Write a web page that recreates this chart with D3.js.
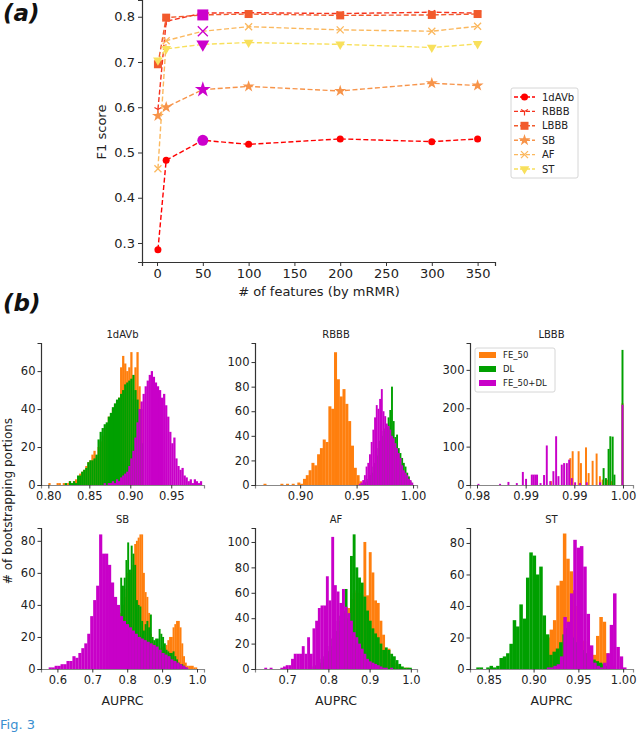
<!DOCTYPE html>
<html>
<head>
<meta charset="utf-8">
<script src="https://cdn.jsdelivr.net/npm/d3@7"></script>
<style>
  body { margin: 0; background: #fff; }
  svg { display: block; font-family: "DejaVu Sans", sans-serif; }
</style>
</head>
<body>
<svg id="chart" width="640" height="734"></svg>
<script>
// ---------- panel (a) data ----------
const featCounts = [1, 10, 50, 100, 200, 300, 350];
const classNames = ["1dAVb", "RBBB", "LBBB", "SB", "AF", "ST"];
const f1_1dAVb = [0.285, 0.483, 0.527, 0.518, 0.530, 0.524, 0.530];
const f1_RBBB  = [0.595, 0.790, 0.808, 0.809, 0.807, 0.810, 0.808];
const f1_LBBB  = [0.695, 0.798, 0.804, 0.806, 0.803, 0.804, 0.806];
const f1_SB    = [0.581, 0.600, 0.639, 0.646, 0.636, 0.653, 0.648];
const f1_AF    = [0.464, 0.747, 0.768, 0.778, 0.771, 0.768, 0.779];
const f1_ST    = [0.704, 0.729, 0.739, 0.743, 0.739, 0.732, 0.740];
const f1Ticks = [0.3, 0.4, 0.5, 0.6, 0.7, 0.8];
const featTicks = [0, 50, 100, 150, 200, 250, 300, 350];

// ---------- panel (b) data : histogram bins {lo, w, n} ----------
const legendNames = ["FE_50", "DL", "FE_50+DL"];

const h1dAVb_FE  = { lo: 0.800, w: 0.0025, n: [1,0,0,0,1,1,0,1,0,1,2,1,2,3,4,6,7,8,10,12,13,16,18,15,20,23,26,30,32,36,36,40,42,44,46,62,68,64,60,62,70,45,62,70,52,40] };
const h1dAVb_DL  = { lo: 0.820, w: 0.0025, n: [1,0,2,1,2,1,5,5,7,8,9,12,13,13,14,16,24,28,30,32,33,36,38,41,43,45,46,48,50,53,54,55,56,58,50,45,40,22] };
const h1dAVb_MIX = { lo: 0.8675, w: 0.0025, n: [1,0,1,1,2,1,3,2,4,5,6,7,10,14,18,25,33,40,44,48,52,55,58,60,57,54,52,50,46,48,42,36,28,22,25,14,10,8,9,5,4,2,3,1,3,2,1,2] };

const hRBBB_FE  = { lo: 0.8675, w: 0.0025, n: [1,0,0,0,0,0,1,0,1,0,1,0,2,1,5,8,12,18,16,25,30,37,35,64,62,108,86,72,78,66,52,32,14,8,3,1,1] };
const hRBBB_DL  = { lo: 0.955, w: 0.0015, n: [1,2,3,5,8,10,15,18,24,30,36,40,44,46,47,55,61,80,52,39,41,30,26,22,18,15,10,7,3] };
const hRBBB_MIX = { lo: 0.952, w: 0.0015, n: [1,2,4,8,15,18,25,35,45,55,65,62,70,78,60,56,50,48,45,40,38,34,30,26,22,16,12,10,8,5,4,2] };

// LBBB values are discrete, so the bins are listed by position
const lbbbBinW = 0.00018;
const hLBBB_FE_pos  = [0.99250, 0.99449, 0.99473, 0.99534, 0.99558, 0.99610, 0.99637, 0.99678, 0.99719, 0.99753, 0.99781, 0.99825, 0.99873, 0.99985];
const hLBBB_FE_n    = [10, 70, 88, 88, 57, 98, 31, 63, 82, 23, 14, 14, 10, 213];
const hLBBB_DL_pos  = [0.99791, 0.99815, 0.99842, 0.99860, 0.99884, 0.99902, 0.99985];
const hLBBB_DL_n    = [44, 18, 94, 127, 126, 27, 352];
const hLBBB_MIX_pos = [0.98505, 0.98727, 0.98813, 0.98899, 0.98961, 0.98994, 0.99053, 0.99071, 0.99089, 0.99107, 0.99143, 0.99179, 0.99207, 0.99243, 0.99275, 0.99303, 0.99327, 0.99361, 0.99385, 0.99413, 0.99437, 0.99464, 0.99498, 0.99549, 0.99618, 0.99755, 0.99985];
const hLBBB_MIX_n   = [3, 3, 8, 5, 34, 16, 27, 27, 27, 27, 5, 26, 103, 10, 36, 127, 23, 53, 57, 57, 66, 18, 7, 5, 7, 7, 209];

const hSB_FE  = { lo: 0.770, w: 0.005, n: [28,30,35,40,45,50,60,60,62,65,78,80,82,84,84,60,48,45,35,22,18,16,15,14,13,12,14,13,15,18,20,20,26,28,30,30,26,16,8,4,2,2,2,2,1,1] };
const hSB_DL  = { lo: 0.775, w: 0.005, n: [20,57,52,57,68,79,62,77,72,65,43,40,39,30,24,28,30,26,34,20,18,19,19,25,22,20,16,12,11,10,10,11,8,6,4,3,3,2,1] };
const hSB_MIX = { lo: 0.575, w: 0.0085, n: [1,1,2,2,3,3,5,5,8,7,10,13,16,22,33,43,52,84,72,72,65,54,45,40,33,30,28,26,24,22,20,19,18,17,16,15,14,12,10,9,8,6,5,4,3,2,1] };

const hAF_FE  = { lo: 0.781, w: 0.0065, n: [3,5,8,12,15,20,25,30,35,40,48,55,60,62,60,58,100,58,92,76,54,52,38,27,15,16,8,5,3,2,1,1,1] };
const hAF_DL  = { lo: 0.7615, w: 0.0065, n: [2,3,5,8,10,14,18,24,30,38,42,46,63,40,89,106,80,72,68,57,46,38,32,28,25,20,15,17,15,12,10,7,4,2,1,1,1] };
const hAF_MIX = { lo: 0.6445, w: 0.0065, n: [1,0,1,0,0,0,1,2,3,3,8,12,12,12,18,12,25,12,32,38,48,50,50,73,54,104,66,61,52,63,49,44,38,29,25,20,16,12,8,6,5,4,3,2,1,1,0,1] };

const hST_FE  = { lo: 0.9105, w: 0.0037, n: [12,20,25,31,53,56,86,70,62,50,40,30,18,10,6,9,21,33,30,10,5,2] };
const hST_DL  = { lo: 0.836, w: 0.0037, n: [1,1,0,1,2,1,2,7,8,10,16,31,27,41,32,58,74,72,60,65,34,22,9,11,13,17,22,26,25,20,17,14,12,10,8,6,5,4,3,2,1,1] };
const hST_MIX = { lo: 0.9147, w: 0.0037, n: [1,1,2,3,8,33,30,48,82,77,78,65,35,15,4,2,1,4,10,28,48,14,8,1] };

// axis setup per subplot
const histXDomains = [[0.791, 0.990], [0.860, 1.0035], [0.98428, 1.00103], [0.553, 1.020], [0.622, 1.015], [0.829, 1.011]];
const histYMax = [74.8, 115.5, 370, 88, 111, 89.5];
const histXTicks = [[0.80, 0.85, 0.90, 0.95], [0.90, 0.95, 1.00], [0.985, 0.990, 0.995, 1.000], [0.6, 0.7, 0.8, 0.9, 1.0], [0.7, 0.8, 0.9, 1.0], [0.85, 0.90, 0.95, 1.00]];
const histXTickLabels = [["0.80", "0.85", "0.90", "0.95"], ["0.90", "0.95", "1.00"], ["0.98", "0.99", "0.99", "1.00"], ["0.6", "0.7", "0.8", "0.9", "1.0"], ["0.7", "0.8", "0.9", "1.0"], ["0.85", "0.90", "0.95", "1.00"]];
const histYTicks = [[0, 20, 40, 60], [0, 20, 40, 60, 80, 100], [0, 100, 200, 300], [0, 20, 40, 60, 80], [0, 20, 40, 60, 80, 100], [0, 20, 40, 60, 80]];

const dense = s => s.n.map((c, i) => ({ x0: s.lo + i * s.w, x1: s.lo + (i + 1) * s.w, c }));
const sparse = (pos, n) => pos.map((p, i) => ({ x0: p, x1: p + lbbbBinW, c: n[i] }));

const histSeries = [
  [dense(h1dAVb_FE), dense(h1dAVb_DL), dense(h1dAVb_MIX)],
  [dense(hRBBB_FE), dense(hRBBB_DL), dense(hRBBB_MIX)],
  [sparse(hLBBB_FE_pos, hLBBB_FE_n), sparse(hLBBB_DL_pos, hLBBB_DL_n), sparse(hLBBB_MIX_pos, hLBBB_MIX_n)],
  [dense(hSB_FE), dense(hSB_DL), dense(hSB_MIX)],
  [dense(hAF_FE), dense(hAF_DL), dense(hAF_MIX)],
  [dense(hST_FE), dense(hST_DL), dense(hST_MIX)]
];

// ---------- styles ----------
const lineColors = ["#ff0000", "#f5321e", "#f25a2c", "#f7944a", "#fbb85e", "#f8e05c"];
const markerTypes = ["circle", "tri", "square", "star", "x", "tridown"];
const highlight = "#cc00cc";
const histColors = ["#ff7f0e", "#00a000", "#c800c8"];
const axisColor = "#333";

const svg = d3.select("#chart");

function styleAxis(g, fontSize) {
  g.selectAll(".domain").attr("stroke", axisColor).attr("stroke-width", 1.2);
  g.selectAll(".tick line").attr("stroke", axisColor).attr("stroke-width", 1);
  g.selectAll(".tick text").attr("fill", "#222").style("font-size", fontSize + "px")
    .style("font-family", "DejaVu Sans, sans-serif");
}

function drawMarker(g, type, cx, cy, s, color) {
  if (type === "circle") {
    g.append("circle").attr("cx", cx).attr("cy", cy).attr("r", s / 2).attr("fill", color);
  } else if (type === "square") {
    g.append("rect").attr("x", cx - s / 2).attr("y", cy - s / 2).attr("width", s).attr("height", s).attr("fill", color);
  } else if (type === "tri") {
    g.append("path")
      .attr("d", `M${cx},${cy}v${s / 2}M${cx},${cy}l${-0.433 * s},${-0.25 * s}M${cx},${cy}l${0.433 * s},${-0.25 * s}`)
      .attr("stroke", color).attr("stroke-width", 1.2).attr("fill", "none");
  } else if (type === "star") {
    g.append("path").attr("d", d3.symbol(d3.symbolStar, s * s * 0.55)())
      .attr("transform", `translate(${cx},${cy})`).attr("fill", color);
  } else if (type === "x") {
    const h = s / 2;
    g.append("path").attr("d", `M${cx - h},${cy - h}L${cx + h},${cy + h}M${cx - h},${cy + h}L${cx + h},${cy - h}`)
      .attr("stroke", color).attr("stroke-width", 1.3).attr("fill", "none");
  } else if (type === "tridown") {
    g.append("path").attr("d", d3.symbol(d3.symbolTriangle, s * s * 0.5)())
      .attr("transform", `translate(${cx},${cy}) rotate(180)`).attr("fill", color);
  }
}

// ================= panel (a) =================
const xA = d3.scaleLinear().domain([-16.4, 369]).range([142, 495]);
const yA = d3.scaleLinear().domain([0.258, 0.837]).range([262, 0]);

const gA = svg.append("g");

const axA_x = gA.append("g").attr("transform", "translate(0,262)")
  .call(d3.axisBottom(xA).tickValues(featTicks).tickSizeOuter(0).tickSize(4).tickPadding(3));
const axA_y = gA.append("g").attr("transform", "translate(142,0)")
  .call(d3.axisLeft(yA).tickValues(f1Ticks).tickFormat(d3.format(".1f")).tickSizeOuter(0).tickSize(4).tickPadding(3));
styleAxis(axA_x, 13);
styleAxis(axA_y, 13);

gA.append("text").attr("x", 319).attr("y", 296).attr("text-anchor", "middle")
  .style("font-size", "13px").attr("fill", "#222").text("# of features (by mRMR)");
gA.append("text").attr("transform", "translate(106,132) rotate(-90)").attr("text-anchor", "middle")
  .style("font-size", "13px").attr("fill", "#222").text("F1 score");

const f1Series = [f1_1dAVb, f1_RBBB, f1_LBBB, f1_SB, f1_AF, f1_ST];
const markerSizes = [7, 8, 8, 9, 7, 9];
const hlSizes = [11, 11, 11, 12, 10, 12];
const lineA = d3.line().x((d, i) => xA(featCounts[i])).y(d => yA(d));

f1Series.forEach((vals, k) => {
  const g = gA.append("g");
  g.append("path").attr("d", lineA(vals)).attr("fill", "none")
    .attr("stroke", lineColors[k]).attr("stroke-width", 1.4).attr("stroke-dasharray", "5,2.5");
  vals.forEach((v, i) => {
    if (i === 2) drawMarker(g, markerTypes[k], xA(featCounts[i]), yA(v), hlSizes[k], highlight);
    else drawMarker(g, markerTypes[k], xA(featCounts[i]), yA(v), markerSizes[k], lineColors[k]);
  });
});

// legend (a)
const legA = gA.append("g").attr("transform", "translate(511,88)");
legA.append("rect").attr("width", 67).attr("height", 90).attr("rx", 2)
  .attr("fill", "#fff").attr("stroke", "#ccc").attr("stroke-width", 0.8);
classNames.forEach((name, k) => {
  const y = 9 + k * 14.4;
  legA.append("line").attr("x1", 3).attr("x2", 24).attr("y1", y).attr("y2", y)
    .attr("stroke", lineColors[k]).attr("stroke-width", 1.4).attr("stroke-dasharray", "4,2");
  drawMarker(legA, markerTypes[k], 13.5, y, markerSizes[k], lineColors[k]);
  legA.append("text").attr("x", 31).attr("y", y + 3.5).style("font-size", "10px").attr("fill", "#222").text(name);
});

svg.append("text").attr("x", 3).attr("y", 21).style("font-size", "23px").style("font-weight", "bold")
  .style("font-style", "italic").attr("fill", "#111").text("(a)");

// ================= panel (b) =================
svg.append("text").attr("x", 3).attr("y", 311).style("font-size", "23px").style("font-weight", "bold")
  .style("font-style", "italic").attr("fill", "#111").text("(b)");

const histCols = [[41, 204], [255, 417], [470, 633]];
const histRows = [[343, 485], [528, 669]];

classNames.forEach((name, p) => {
  const [x0, x1] = histCols[p % 3];
  const [yt, yb] = histRows[Math.floor(p / 3)];
  const hx = d3.scaleLinear().domain(histXDomains[p]).range([x0, x1]);
  const hy = d3.scaleLinear().domain([0, histYMax[p]]).range([yb, yt]);
  const g = svg.append("g");

  histSeries[p].forEach((bins, k) => {
    g.append("g").selectAll("rect").data(bins.filter(b => b.c > 0)).join("rect")
      .attr("x", b => hx(b.x0))
      .attr("width", b => Math.max(0.8, hx(b.x1) - hx(b.x0) + 0.2))
      .attr("y", b => hy(b.c))
      .attr("height", b => yb - hy(b.c))
      .attr("fill", histColors[k]);
  });

  const ax = g.append("g").attr("transform", `translate(0,${yb})`)
    .call(d3.axisBottom(hx).tickValues(histXTicks[p]).tickFormat((d, i) => histXTickLabels[p][i])
      .tickSizeOuter(0).tickSize(3.5).tickPadding(3));
  const ay = g.append("g").attr("transform", `translate(${x0},0)`)
    .call(d3.axisLeft(hy).tickValues(histYTicks[p]).tickSizeOuter(0).tickSize(3.5).tickPadding(2));
  styleAxis(ax, 11.5);
  styleAxis(ay, 11.5);
  ax.select(".domain").attr("stroke", "#888");

  g.append("text").attr("x", (x0 + x1) / 2).attr("y", yt - 5).attr("text-anchor", "middle")
    .style("font-size", "10px").attr("fill", "#222").text(name);

  if (p >= 3) {
    g.append("text").attr("x", (x0 + x1) / 2).attr("y", 705).attr("text-anchor", "middle")
      .style("font-size", "12.5px").attr("fill", "#222").text("AUPRC");
  }

  // legend lives in the LBBB subplot
  if (p === 2) {
    const leg = g.append("g").attr("transform", "translate(475,348)");
    leg.append("rect").attr("width", 80).attr("height", 44).attr("rx", 2)
      .attr("fill", "#fff").attr("stroke", "#ccc").attr("stroke-width", 0.8);
    legendNames.forEach((ln, k) => {
      const y = 7 + k * 14;
      leg.append("rect").attr("x", 4).attr("y", y - 3).attr("width", 17).attr("height", 6).attr("fill", histColors[k]);
      leg.append("text").attr("x", 28).attr("y", y + 3).style("font-size", "8.5px").attr("fill", "#222").text(ln);
    });
  }
});

svg.append("text").attr("transform", "translate(12,501) rotate(-90)").attr("text-anchor", "middle")
  .style("font-size", "12px").attr("fill", "#222").text("# of bootstrapping portions");

// figure caption line at the bottom edge
svg.append("text").attr("x", 0).attr("y", 729).style("font-size", "13px")
  .attr("fill", "#3a8fd0").text("Fig. 3");
</script>
</body>
</html>
